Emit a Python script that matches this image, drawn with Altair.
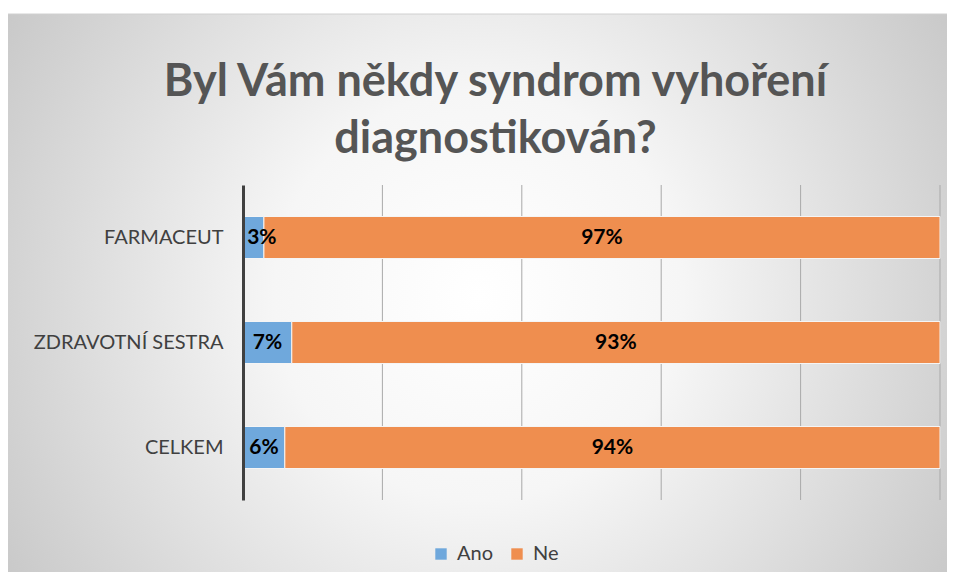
import altair as alt
import pandas as pd

categories = ["FARMACEUT", "ZDRAVOTNÍ SESTRA", "CELKEM"]
series = ["Ano", "Ne"]
ano = [3, 7, 6]
ne = [97, 93, 94]
grid_vals = [0.2, 0.4, 0.6, 0.8, 1.0]

rows = []
for c, a, n in zip(categories, ano, ne):
    rows.append({"kat": c, "odp": "Ano", "val": a, "ord": 0})
    rows.append({"kat": c, "odp": "Ne", "val": n, "ord": 1})
df = pd.DataFrame(rows)

W, H = 697, 315
PL, PT, PR, PB = 235, 177, 7, 72

bg = alt.Chart(pd.DataFrame({"a": [0]})).mark_rect(
    fill=alt.RadialGradient(
        gradient="radial",
        stops=[alt.GradientStop(offset=0, color="#ffffff"),
               alt.GradientStop(offset=0.3, color="#f6f6f6"),
               alt.GradientStop(offset=0.7, color="#d2d2d2"),
               alt.GradientStop(offset=1, color="#b8b8b8")],
        x1=0.5, y1=0.5, x2=0.5, y2=0.5, r1=0, r2=0.72,
    ),
    stroke="#d0d0d0", strokeWidth=1,
).encode(
    x=alt.value(-PL - 3), x2=alt.value(W + PR + 5),
    y=alt.value(14 - 8 - PT), y2=alt.value(H + PB + 5),
)

grid = alt.Chart(pd.DataFrame({"g": grid_vals})).mark_rule(
    color="#a9a9a9", strokeWidth=1
).encode(
    x=alt.X("g:Q", scale=alt.Scale(domain=[0, 1]), axis=None),
    y=alt.value(0), y2=alt.value(H),
)

base = alt.Chart(df)

y_enc = alt.Y("kat:N", sort=categories, title=None,
              scale=alt.Scale(paddingInner=0.6, paddingOuter=0.3),
              axis=alt.Axis(labelFont="Lato", labelFontSize=20, labelColor="#404040",
                            labelPadding=20, labelLimit=400, ticks=False,
                            domainColor="#404040", domainWidth=3, grid=False, zindex=1))

bars = base.mark_bar(stroke="#f5f5f5", strokeWidth=1, cornerRadius=0).encode(
    y=y_enc,
    x=alt.X("sum(val):Q", stack="normalize", title=None,
            scale=alt.Scale(domain=[0, 1]), axis=None),
    color=alt.Color("odp:N", sort=series,
                    scale=alt.Scale(domain=series, range=["#6FA8DC", "#EF8E4F"]),
                    legend=alt.Legend(title=None, orient="none", direction="horizontal",
                                      legendX=188, legendY=359,
                                      labelFont="Lato", labelFontSize=20,
                                      labelColor="#404040", symbolType="square",
                                      symbolSize=130, symbolStrokeWidth=0,
                                      columnPadding=14, labelOffset=6, zindex=1)),
    order=alt.Order("ord:Q"),
)

labels = base.transform_joinaggregate(
    tot="sum(val)", groupby=["kat"]
).transform_window(
    cum="sum(val)", groupby=["kat"], sort=[alt.SortField("ord")]
).transform_calculate(
    mid="(datum.cum - datum.val / 2) / datum.tot",
    lbl="datum.val + '%'",
).transform_calculate(
    pos="max(datum.mid, 0.027)"
).mark_text(font="Lato", fontSize=21, fontWeight="bold", color="#000000").encode(
    y=alt.Y("kat:N", sort=categories),
    x=alt.X("pos:Q", scale=alt.Scale(domain=[0, 1])),
    text=alt.Text("lbl:N"),
)

chart = alt.layer(bg, grid, bars, labels).properties(
    width=W, height=H,
    autosize=alt.AutoSizeParams(type="none"),
    padding={"left": PL, "top": PT, "right": PR, "bottom": PB},
    title=alt.TitleParams(
        ["Byl Vám někdy syndrom vyhoření", "diagnostikován?"],
        font="Lato", fontSize=45, fontWeight="bold", color="#555555",
        anchor="middle", dx=-96, offset=0, dy=148, lineHeight=57, zindex=1,
    ),
    background="#ffffff",
).configure_view(stroke=None)

chart.save("out.html", embed_options={"renderer": "svg", "actions": False})
